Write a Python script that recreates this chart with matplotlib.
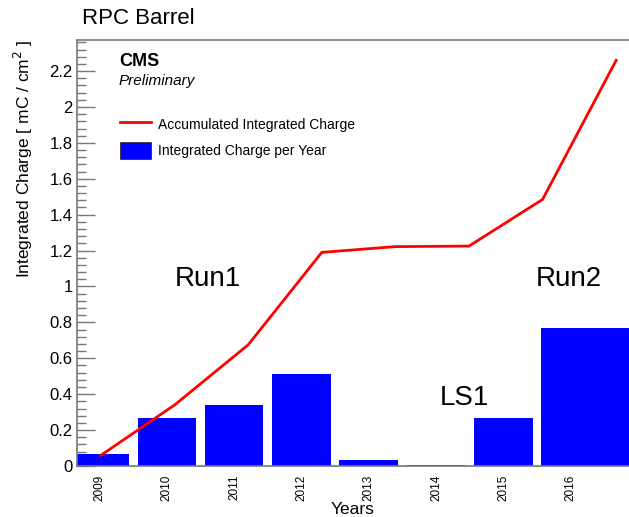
import matplotlib
matplotlib.use("Agg")
import matplotlib.pyplot as plt
from matplotlib.ticker import MultipleLocator
from matplotlib.patches import Patch
from matplotlib.lines import Line2D

plt.rcParams['font.family'] = ['Liberation Sans', 'DejaVu Sans']

years = ["2009", "2010", "2011", "2012", "2013", "2014", "2015", "2016"]
per_year = [0.065, 0.27, 0.34, 0.51, 0.032, 0.003, 0.27, 0.77]
cumulative = [0.06, 0.34, 0.675, 1.19, 1.222, 1.225, 1.485, 2.26]
line_years = [2009, 2010, 2011, 2012, 2013, 2014, 2015, 2016]

fig = plt.figure(figsize=(6.29, 5.17), dpi=100)
ax = fig.add_axes([77/629, 51/517, 1 - 77/629, (466-40)/517])

pos = list(range(len(years)))
widths = [0.87] * (len(years) - 1) + [1.6]
lefts = [p - 0.435 for p in pos]
ax.bar(lefts, per_year, width=widths, align='edge', color='#0000ff', edgecolor='none', zorder=2)
ax.set_xlim(-0.334, 7.868)
ax.set_ylim(0, 2.373)

ax.set_xticks(pos)
ax.set_xticklabels(years, rotation=90, fontsize=8.5)
ax.tick_params(axis='x', length=0, pad=6)
ax.yaxis.set_minor_locator(MultipleLocator(0.04))
ax.tick_params(axis='y', which='major', direction='in', length=13, width=1, color='#777777', labelsize=12, pad=3)
ax.tick_params(axis='y', which='minor', direction='in', length=6.5, width=1, color='#777777')
ax.set_yticks([0, 0.2, 0.4, 0.6, 0.8, 1, 1.2, 1.4, 1.6, 1.8, 2, 2.2])
ax.set_yticklabels(["0", "0.2", "0.4", "0.6", "0.8", "1", "1.2", "1.4", "1.6", "1.8", "2", "2.2"])

for s in ['left', 'top', 'bottom']:
    ax.spines[s].set_color('#777777')
    ax.spines[s].set_linewidth(1.2)
ax.spines['right'].set_visible(False)

ax.set_ylabel("Integrated Charge [ mC / cm$^2$ ]", fontsize=12.5, ha='right')
ax.yaxis.set_label_coords(-0.076, 1.0)
ax.set_xlabel("Years", fontsize=12.5, labelpad=1)

ax2 = ax.twiny()
ax2.plot(line_years, cumulative, color='#ff0000', lw=2, zorder=3)
ax2.set_xlim(2008.674, 2016.174)
ax2.set_axis_off()

fig.text(82/629, 1 - 18/517, "RPC Barrel", fontsize=16, va='center', ha='left')
fig.text(119/629, 1 - 62/517, "CMS", fontsize=13, fontweight='bold', va='center', ha='left')
fig.text(119/629, 1 - 81/517, "Preliminary", fontsize=11, fontstyle='italic', va='center', ha='left')

fig.text(175/629, 1 - 279/517, "Run1", fontsize=20, va='center', ha='left')
fig.text(536/629, 1 - 279/517, "Run2", fontsize=20, va='center', ha='left')
fig.text(440/629, 1 - 398/517, "LS1", fontsize=20, va='center', ha='left')

handles = [Line2D([0], [0], color='#ff0000', lw=2),
           Patch(facecolor='#0000ff', edgecolor='#333333', linewidth=0.6)]
leg = ax.legend(handles, ["Accumulated Integrated Charge", "Integrated Charge per Year"],
                loc='upper left', bbox_to_anchor=(120/629, 1 - 116/517), bbox_transform=fig.transFigure,
                frameon=False, fontsize=10, handlelength=2.2, handleheight=1.4,
                labelspacing=0.75, handletextpad=0.55, borderpad=0, borderaxespad=0)

fig.savefig("out.png", dpi=100)
